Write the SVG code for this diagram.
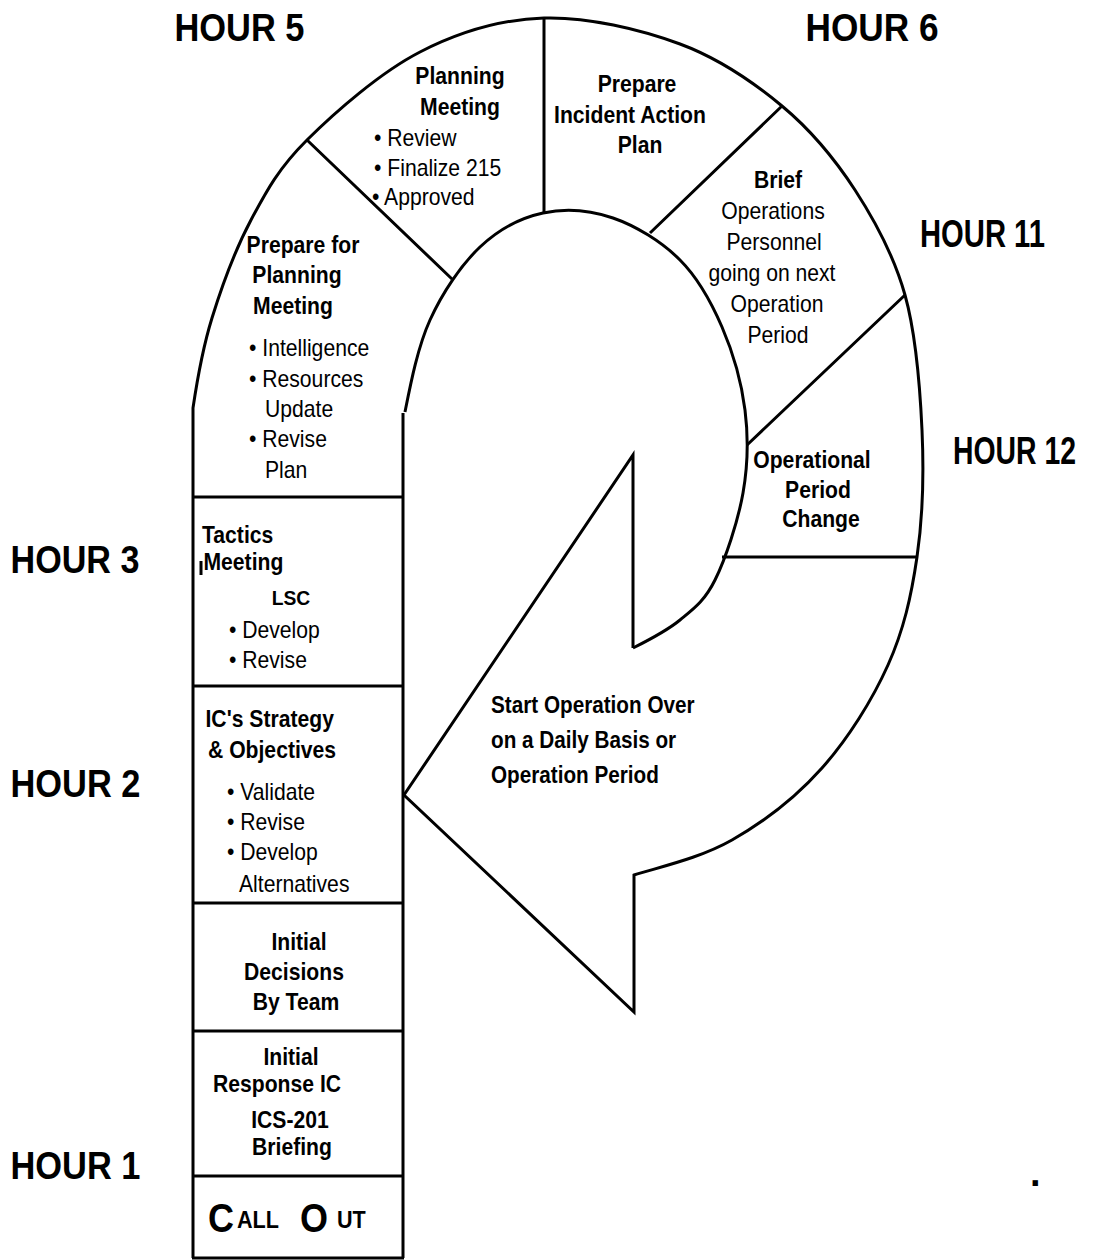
<svg xmlns="http://www.w3.org/2000/svg" width="1120" height="1260" viewBox="0 0 1120 1260">
  <style>
    text { font-family: "Liberation Sans", Arial, sans-serif; fill: #000; }
    .b { font-weight: 700; font-size: 23px; }
    .r { font-weight: 400; font-size: 23px; }
    .m { text-anchor: middle; }
    .h { font-weight: 700; font-size: 38px; }
    .ln { fill: none; stroke: #000; stroke-width: 3; stroke-linejoin: miter; }
  </style>
  <rect width="1120" height="1260" fill="#fff"/>

  <!-- Outline of the planning cycle: column, outer band edge, return arrow, inner band edge -->
  <g id="connectors">
    <path class="ln" d="M193,1258 L193,408
      C197.5,377.7 202.3,349.3 212,318
      C221.7,286.7 235.2,249.7 251,220
      C266.8,190.3 278.8,168 307,140
      C335.2,112 380.5,72.3 420,52
      C459.5,31.7 500.7,19.3 544,18
      C587.3,16.7 640.3,29.3 680,44
      C719.7,58.7 752.8,81.7 782,106
      C811.2,130.3 834.5,158.5 855,190
      C875.5,221.5 893.8,255 905,295
      C916.2,335 920,386.3 922,430
      C924,473.7 922.7,517.8 917,557
      C911.3,596.2 903.8,629.8 888,665
      C872.2,700.2 848,738.8 822,768
      C796,797.2 763.3,822.2 732,840
      C700.7,857.8 662.7,866.2 634,875
      L634,1012 L404,795 L633,455 L633,648"/>
    <path class="ln" d="M405,412
      C410.3,385.3 417.5,347.5 430,320
      C442.5,292.5 461.2,264.8 480,247
      C498.8,229.2 520.8,217.8 543,213
      C565.2,208.2 590.2,210.2 613,218
      C635.8,225.8 661.8,241.8 680,260
      C698.2,278.2 711.2,302 722,327
      C732.8,352 741.5,382.3 745,410
      C748.5,437.7 748,464.7 743,493
      C738,521.3 725.5,558.8 715,580
      C704.5,601.2 693.7,608.7 680,620
      C666.3,631.3 648,640.5 633,648"/>
    <path class="ln" d="M403,413 L403,1258 M192,1258 L404,1258"/>
    <!-- band dividers -->
    <path class="ln" d="M307,140 L452,279 M544,18 L544,213 M782,106 L650,233 M905,295 L747,445 M722,557 L917,557"/>
    <!-- column dividers -->
    <path class="ln" d="M193,497 L403,497 M193,686 L403,686 M193,903 L403,903 M193,1031 L403,1031 M193,1176 L403,1176"/>
  </g>

  <!-- Hour markers -->
  <g id="hours">
    <text class="h" x="174.5" y="41" textLength="130" lengthAdjust="spacingAndGlyphs">HOUR 5</text>
    <text class="h" x="805.5" y="41" textLength="133" lengthAdjust="spacingAndGlyphs">HOUR 6</text>
    <text class="h" x="920" y="247" textLength="125" lengthAdjust="spacingAndGlyphs">HOUR 11</text>
    <text class="h" x="953" y="464" textLength="123" lengthAdjust="spacingAndGlyphs">HOUR 12</text>
    <text class="h" x="10.5" y="573" textLength="129" lengthAdjust="spacingAndGlyphs">HOUR 3</text>
    <text class="h" x="10.5" y="797" textLength="130" lengthAdjust="spacingAndGlyphs">HOUR 2</text>
    <text class="h" x="10.5" y="1179" textLength="130" lengthAdjust="spacingAndGlyphs">HOUR 1</text>
    <text class="h" x="1030" y="1186">.</text>
  </g>

  <g id="call-out">
    <text class="b" style="font-size:40px" transform="translate(208 1232) scale(.9 1)">C</text>
    <text class="b" style="font-size:24px" transform="translate(237 1228) scale(.9 1)">ALL</text>
    <text class="b" style="font-size:40px" transform="translate(300 1232) scale(.9 1)">O</text>
    <text class="b" style="font-size:24px" transform="translate(337 1228) scale(.9 1)">UT</text>
  </g>

  <g id="initial-response">
    <text class="b m" transform="translate(291 1065) scale(.92 1)">Initial</text>
    <text class="b m" transform="translate(277 1092) scale(.92 1)">Response IC</text>
    <text class="b m" transform="translate(290 1128) scale(.92 1)">ICS-201</text>
    <text class="b m" transform="translate(292 1155) scale(.92 1)">Briefing</text>
  </g>

  <g id="initial-decisions">
    <text class="b m" transform="translate(299 950) scale(.92 1)">Initial</text>
    <text class="b m" transform="translate(294 980) scale(.92 1)">Decisions</text>
    <text class="b m" transform="translate(296 1010) scale(.92 1)">By Team</text>
  </g>

  <g id="strategy-objectives">
    <text class="b" transform="translate(205.5 727) scale(.92 1)">IC's Strategy</text>
    <text class="b" transform="translate(208 758) scale(.92 1)">&amp; Objectives</text>
    <text class="r" transform="translate(227 800) scale(.92 1)">• Validate</text>
    <text class="r" transform="translate(227 830) scale(.92 1)">• Revise</text>
    <text class="r" transform="translate(227 860) scale(.92 1)">• Develop</text>
    <text class="r" transform="translate(239 892) scale(.92 1)">Alternatives</text>
  </g>

  <g id="tactics-meeting">
    <text class="b" transform="translate(202 543) scale(.92 1)">Tactics</text>
    <text class="b" transform="translate(203.5 570) scale(.92 1)">Meeting</text>
    <rect x="199.5" y="561" width="3" height="14" fill="#000"/>
    <text class="b m" style="font-size:21px" transform="translate(291 605) scale(.92 1)">LSC</text>
    <text class="r" transform="translate(229 638) scale(.92 1)">• Develop</text>
    <text class="r" transform="translate(229 668) scale(.92 1)">• Revise</text>
  </g>

  <g id="prepare-planning">
    <text class="b m" transform="translate(303 253) scale(.92 1)">Prepare for</text>
    <text class="b m" transform="translate(297 283) scale(.92 1)">Planning</text>
    <text class="b m" transform="translate(293 314) scale(.92 1)">Meeting</text>
    <text class="r" transform="translate(249 356) scale(.92 1)">• Intelligence</text>
    <text class="r" transform="translate(249 387) scale(.92 1)">• Resources</text>
    <text class="r" transform="translate(265 417) scale(.92 1)">Update</text>
    <text class="r" transform="translate(249 447) scale(.92 1)">• Revise</text>
    <text class="r" transform="translate(265 478) scale(.92 1)">Plan</text>
  </g>

  <g id="planning-meeting">
    <text class="b m" transform="translate(460 84) scale(.92 1)">Planning</text>
    <text class="b m" transform="translate(460 115) scale(.92 1)">Meeting</text>
    <text class="r" transform="translate(374 146) scale(.92 1)">• Review</text>
    <text class="r" transform="translate(374 176) scale(.92 1)">• Finalize 215</text>
    <text class="r" transform="translate(372 205) scale(.92 1)">• Approved</text>
  </g>

  <g id="prepare-iap">
    <text class="b m" transform="translate(637 92) scale(.92 1)">Prepare</text>
    <text class="b m" transform="translate(630 123) scale(.92 1)">Incident Action</text>
    <text class="b m" transform="translate(640 153) scale(.92 1)">Plan</text>
  </g>

  <g id="brief-operations">
    <text class="b m" transform="translate(778 188) scale(.92 1)">Brief</text>
    <text class="r m" transform="translate(773 219) scale(.92 1)">Operations</text>
    <text class="r m" transform="translate(774 250) scale(.92 1)">Personnel</text>
    <text class="r m" transform="translate(772 281) scale(.92 1)">going on next</text>
    <text class="r m" transform="translate(777 312) scale(.92 1)">Operation</text>
    <text class="r m" transform="translate(778 343) scale(.92 1)">Period</text>
  </g>

  <g id="operational-period-change">
    <text class="b m" transform="translate(812 468) scale(.92 1)">Operational</text>
    <text class="b m" transform="translate(818 498) scale(.92 1)">Period</text>
    <text class="b m" transform="translate(821 527) scale(.92 1)">Change</text>
  </g>

  <g id="start-over">
    <text class="b" transform="translate(491 713) scale(.9 1)">Start Operation Over</text>
    <text class="b" transform="translate(491 748) scale(.9 1)">on a Daily Basis or</text>
    <text class="b" transform="translate(491 783) scale(.9 1)">Operation Period</text>
  </g>
</svg>
